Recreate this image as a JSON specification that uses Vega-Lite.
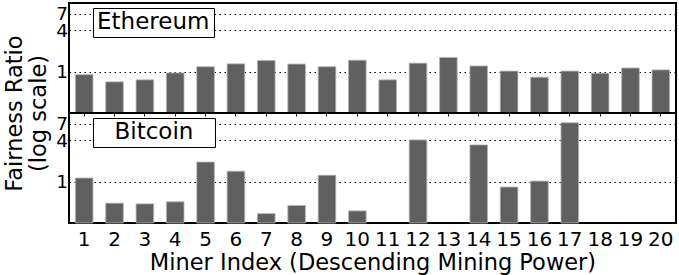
{
  "$schema": "https://vega.github.io/schema/vega-lite/v6.json",
  "padding": {"left": 2, "top": 2, "right": 3, "bottom": 2},
  "background": "white",
  "config": {
    "font": "DejaVu Sans",
    "view": {"stroke": "black", "strokeWidth": 2},
    "axis": {"labelFont": "DejaVu Sans", "titleFont": "DejaVu Sans", "labelColor": "black", "titleColor": "black", "titleFontWeight": "normal"}
  },
  "datasets": {
    "fair": [
      {"chain": "Ethereum", "miner": 1, "ratio": 0.905},
      {"chain": "Ethereum", "miner": 2, "ratio": 0.71},
      {"chain": "Ethereum", "miner": 3, "ratio": 0.76},
      {"chain": "Ethereum", "miner": 4, "ratio": 0.96},
      {"chain": "Ethereum", "miner": 5, "ratio": 1.18},
      {"chain": "Ethereum", "miner": 6, "ratio": 1.30},
      {"chain": "Ethereum", "miner": 7, "ratio": 1.46},
      {"chain": "Ethereum", "miner": 8, "ratio": 1.29},
      {"chain": "Ethereum", "miner": 9, "ratio": 1.18},
      {"chain": "Ethereum", "miner": 10, "ratio": 1.47},
      {"chain": "Ethereum", "miner": 11, "ratio": 0.76},
      {"chain": "Ethereum", "miner": 12, "ratio": 1.33},
      {"chain": "Ethereum", "miner": 13, "ratio": 1.61},
      {"chain": "Ethereum", "miner": 14, "ratio": 1.21},
      {"chain": "Ethereum", "miner": 15, "ratio": 1.02},
      {"chain": "Ethereum", "miner": 16, "ratio": 0.83},
      {"chain": "Ethereum", "miner": 17, "ratio": 1.02},
      {"chain": "Ethereum", "miner": 18, "ratio": 0.95},
      {"chain": "Ethereum", "miner": 19, "ratio": 1.13},
      {"chain": "Ethereum", "miner": 20, "ratio": 1.06},
      {"chain": "Bitcoin", "miner": 1, "ratio": 1.13},
      {"chain": "Bitcoin", "miner": 2, "ratio": 0.486},
      {"chain": "Bitcoin", "miner": 3, "ratio": 0.475},
      {"chain": "Bitcoin", "miner": 4, "ratio": 0.508},
      {"chain": "Bitcoin", "miner": 5, "ratio": 1.93},
      {"chain": "Bitcoin", "miner": 6, "ratio": 1.42},
      {"chain": "Bitcoin", "miner": 7, "ratio": 0.343},
      {"chain": "Bitcoin", "miner": 8, "ratio": 0.45},
      {"chain": "Bitcoin", "miner": 9, "ratio": 1.24},
      {"chain": "Bitcoin", "miner": 10, "ratio": 0.375},
      {"chain": "Bitcoin", "miner": 12, "ratio": 4.06},
      {"chain": "Bitcoin", "miner": 14, "ratio": 3.43},
      {"chain": "Bitcoin", "miner": 15, "ratio": 0.836},
      {"chain": "Bitcoin", "miner": 16, "ratio": 1.02},
      {"chain": "Bitcoin", "miner": 17, "ratio": 7.2}
    ]
  },
  "spacing": 0,
  "bounds": "flush",
  "resolve": {"scale": {"color": "independent"}, "legend": {"color": "independent"}},
  "vconcat": [
    {
      "width": 607,
      "height": 110,
      "data": {"name": "fair"},
      "transform": [{"filter": "datum.chain === 'Ethereum'"}],
      "mark": {"type": "bar", "stroke": "#b4b4b4", "strokeWidth": 0.8},
      "encoding": {
        "x": {
          "field": "miner", "type": "ordinal",
          "scale": {"domain": [1,2,3,4,5,6,7,8,9,10,11,12,13,14,15,16,17,18,19,20], "paddingInner": 0.42, "paddingOuter": 0.21},
          "axis": {"labels": false, "title": null, "domain": false, "ticks": true, "tickSize": 3, "tickColor": "black"}
        },
        "y": {
          "field": "ratio", "type": "quantitative",
          "scale": {"type": "log", "domain": [0.25, 10], "nice": false},
          "axis": {"values": [1, 4, 7], "format": "d", "labelOverlap": false, "title": ["Fairness Ratio", "(log scale)"], "titleFontSize": 22.5, "titleLineHeight": 24, "labelFontSize": 18.5, "ticks": false, "domain": false, "grid": true, "gridColor": "black", "gridDash": [1.5, 3.5], "gridWidth": 1.2, "gridOpacity": 1, "labelPadding": 1.5, "titleY": 110, "titlePadding": 5}
        },
        "y2": {"datum": 0.25},
        "color": {
          "field": "chain", "type": "nominal",
          "scale": {"range": ["#606060"]},
          "legend": {"orient": "none", "legendX": 24, "legendY": 5, "title": " ", "titleOrient": "right", "titleFontSize": 1, "titlePadding": 2, "padding": 2.5, "strokeColor": "black", "fillColor": "white", "symbolSize": 0, "symbolOpacity": 0, "symbolStrokeWidth": 0, "labelOffset": -21.5, "labelFontSize": 23, "labelFont": "DejaVu Sans", "labelColor": "black"}
        }
      }
    },
    {
      "width": 607,
      "height": 110,
      "data": {"name": "fair"},
      "transform": [{"filter": "datum.chain === 'Bitcoin'"}],
      "mark": {"type": "bar", "stroke": "#b4b4b4", "strokeWidth": 0.8},
      "encoding": {
        "x": {
          "field": "miner", "type": "ordinal",
          "scale": {"domain": [1,2,3,4,5,6,7,8,9,10,11,12,13,14,15,16,17,18,19,20], "paddingInner": 0.42, "paddingOuter": 0.21},
          "axis": {"title": "Miner Index (Descending Mining Power)", "titleFontSize": 22.5, "labelFontSize": 20, "labelAngle": 0, "ticks": false, "domain": false, "labelPadding": 6, "titlePadding": 2}
        },
        "y": {
          "field": "ratio", "type": "quantitative",
          "scale": {"type": "log", "domain": [0.25, 10], "nice": false},
          "axis": {"values": [1, 4, 7], "format": "d", "labelOverlap": false, "title": null, "labelFontSize": 18.5, "ticks": false, "domain": false, "grid": true, "gridColor": "black", "gridDash": [1.5, 3.5], "gridWidth": 1.2, "gridOpacity": 1, "labelPadding": 1.5}
        },
        "y2": {"datum": 0.25},
        "color": {
          "field": "chain", "type": "nominal",
          "scale": {"range": ["#606060"]},
          "legend": {"orient": "none", "legendX": 24, "legendY": 5, "title": " ", "titleOrient": "right", "titleFontSize": 1, "titlePadding": 18.7, "padding": 2.5, "strokeColor": "black", "fillColor": "white", "symbolSize": 0, "symbolOpacity": 0, "symbolStrokeWidth": 0, "labelOffset": -4, "labelFontSize": 23, "labelFont": "DejaVu Sans", "labelColor": "black"}
        }
      }
    }
  ]
}
